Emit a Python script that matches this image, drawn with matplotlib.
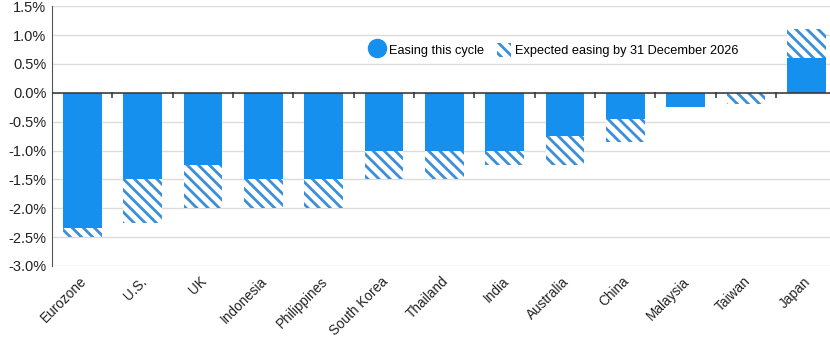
import numpy as np
import matplotlib.pyplot as plt
import matplotlib.transforms as mtransforms
from matplotlib.lines import Line2D
from matplotlib.patches import Patch

plt.rcParams['font.family'] = ['Liberation Sans', 'DejaVu Sans']
plt.rcParams['hatch.linewidth'] = 2.0

# data (percentage points)
countries = ['Eurozone', 'U.S.', 'UK', 'Indonesia', 'Philippines', 'South Korea',
             'Thailand', 'India', 'Australia', 'China', 'Malaysia', 'Taiwan', 'Japan']
easing = [-2.35, -1.5, -1.25, -1.5, -1.5, -1.0, -1.0, -1.0, -0.75, -0.45, -0.25, 0.0, 0.6]
expected_total = [-2.5, -2.25, -2.0, -2.0, -2.0, -1.5, -1.5, -1.25, -1.25, -0.85, -0.25, -0.2, 1.1]
yticks = [-3.0, -2.5, -2.0, -1.5, -1.0, -0.5, 0.0, 0.5, 1.0, 1.5]

blue = '#1590ef'
hatch_blue = '#3a8fd8'

easing = np.array(easing)
expected_total = np.array(expected_total)
x = np.arange(len(countries))

fig = plt.figure(figsize=(8.3, 3.37), dpi=100)
ax = fig.add_axes([0.0627, 0.2107, 0.945, 0.771])

# solid part: easing so far
ax.bar(x, easing, width=0.64, color=blue, zorder=3)
# hatched part: remaining expected easing on top of it
ax.bar(x, expected_total - easing, bottom=easing, width=0.64, color='white',
       edgecolor=hatch_blue, hatch='\\\\\\', linewidth=0, zorder=3)

ax.set_xlim(-0.5, len(countries) - 0.5)
ax.set_ylim(-3.0, 1.5)
ax.set_yticks(yticks)
ax.set_yticklabels(['%.1f%%' % v for v in yticks], fontsize=10.5, color='#222222')
ax.grid(axis='y', color='#dcdcdc', linewidth=1, zorder=0)
ax.set_axisbelow(True)

ax.axhline(0, color='#333333', linewidth=1.1, zorder=4)
# small tick marks between categories just under the zero line
ax.plot(x[:-1] + 0.5, np.zeros(len(x) - 1), linestyle='none', marker='|',
        markersize=4, markeredgewidth=1.1, color='#333333', zorder=4,
        transform=ax.transData + mtransforms.ScaledTranslation(0, -0.025, fig.dpi_scale_trans))

for s in ['top', 'right', 'bottom']:
    ax.spines[s].set_visible(False)
ax.spines['left'].set_color('#555555')
ax.tick_params(axis='y', length=0, pad=4)
ax.tick_params(axis='x', length=0, pad=6)

ax.set_xticks(x)
ax.set_xticklabels(countries, rotation=45, ha='right', rotation_mode='anchor',
                   fontsize=9.8, color='#222222')
offset = mtransforms.ScaledTranslation(-0.03, 0, fig.dpi_scale_trans)
for lab in ax.get_xticklabels():
    lab.set_transform(lab.get_transform() + offset)

handles = [Line2D([], [], linestyle='none', marker='o', markersize=13,
                  color=blue),
           Patch(facecolor='white', edgecolor=hatch_blue, hatch='\\\\\\', linewidth=0)]
fig.legend(handles, ['Easing this cycle', 'Expected easing by 31 December 2026'],
           loc='center', bbox_to_anchor=(0.668, 0.852), ncol=2, frameon=False,
           fontsize=9.2, handlelength=1.1, handleheight=1.3, handletextpad=0.35,
           columnspacing=1.0)

fig.savefig('out.png', dpi=100)
